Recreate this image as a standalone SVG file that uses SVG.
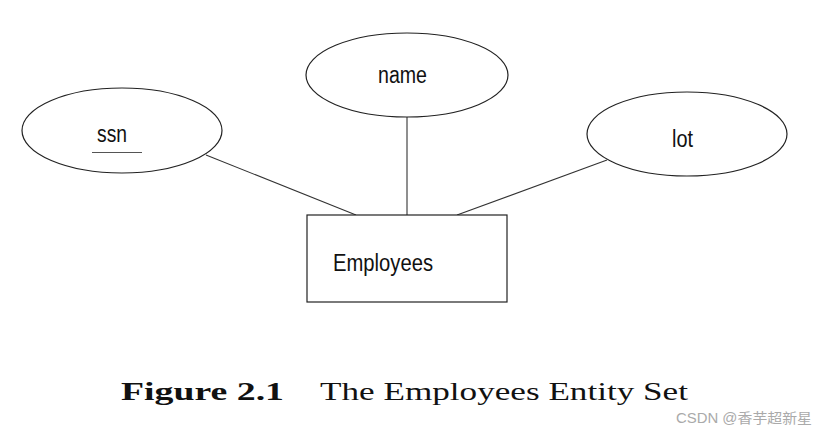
<svg xmlns="http://www.w3.org/2000/svg" width="820" height="434" viewBox="0 0 820 434">
<style>
.shape{fill:#fff;stroke:#222;stroke-width:1.2}
.lbl{font-family:"Liberation Sans",Arial,sans-serif;font-size:23px;fill:#111}
.conn line{stroke:#333;stroke-width:1.1}
.cap{font-family:"Liberation Serif","Times New Roman",serif;font-size:26px;fill:#111}
</style>
<rect width="820" height="434" fill="#fff"/>
<g class="conn" id="connectors">
<line x1="206" y1="155" x2="356" y2="215"/>
<line x1="407" y1="117" x2="407" y2="215"/>
<line x1="607" y1="160" x2="457" y2="215"/>
</g>
<g id="ssn">
<ellipse class="shape" cx="122" cy="130.5" rx="100" ry="42.5"/>
<text class="lbl" x="97" y="142" textLength="30" lengthAdjust="spacingAndGlyphs">ssn</text>
<line x1="92" y1="152.5" x2="142" y2="152.5" stroke="#555" stroke-width="1.2"/>
</g>
<g id="name">
<ellipse class="shape" cx="407" cy="75" rx="101" ry="42"/>
<text class="lbl" x="378" y="83" textLength="49" lengthAdjust="spacingAndGlyphs">name</text>
</g>
<g id="lot">
<ellipse class="shape" cx="687" cy="134" rx="100" ry="42"/>
<text class="lbl" x="672" y="147" textLength="21" lengthAdjust="spacingAndGlyphs">lot</text>
</g>
<g id="employees">
<rect class="shape" x="307" y="215" width="200" height="87"/>
<text class="lbl" x="333" y="271" textLength="100" lengthAdjust="spacingAndGlyphs">Employees</text>
</g>
<text class="cap" x="121" y="400" font-weight="bold" textLength="163" lengthAdjust="spacingAndGlyphs">Figure 2.1</text>
<text class="cap" x="320" y="400" textLength="368" lengthAdjust="spacingAndGlyphs">The Employees Entity Set</text>
<text x="676" y="423" font-family="'Liberation Sans','Noto Sans CJK SC',sans-serif" font-size="14" fill="#aaa" textLength="136" lengthAdjust="spacingAndGlyphs">CSDN @香芋超新星</text>
</svg>
